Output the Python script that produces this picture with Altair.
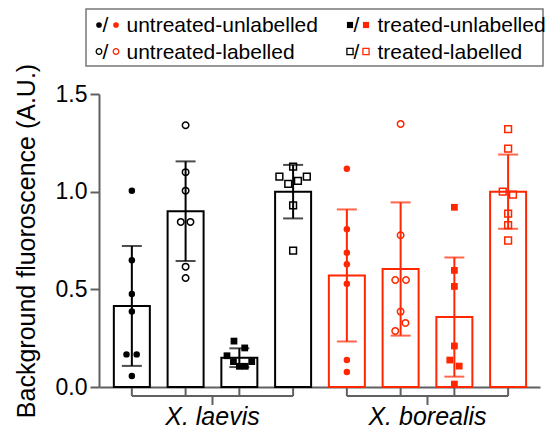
import altair as alt
import pandas as pd

RED = "#FF2600"
GRAY = "#606060"
FONT = "Liberation Sans"

species = ["X. laevis", "X. borealis"]
conditions = ["untreated-unlabelled", "untreated-labelled", "treated-unlabelled", "treated-labelled"]
shapes = ["circle", "circle", "square", "square"]
filled = [True, False, True, False]

mean_laevis = [0.415, 0.90, 0.15, 1.00]
sd_laevis = [0.307, 0.255, 0.048, 0.137]
mean_borealis = [0.571, 0.604, 0.358, 1.00]
sd_borealis = [0.338, 0.341, 0.305, 0.19]

# replicate values and their horizontal scatter (fraction of bar spacing)
laevis_uu = [1.005, 0.649, 0.476, 0.386, 0.167, 0.167, 0.056]
laevis_uu_jit = [0, 0, 0, 0, -0.1, 0.09, 0]
laevis_ul = [1.34, 1.10, 1.005, 0.845, 0.845, 0.616, 0.558]
laevis_ul_jit = [0, 0, 0, -0.09, 0.09, 0, 0]
laevis_tu = [0.235, 0.20, 0.16, 0.13, 0.13, 0.106, 0.106]
laevis_tu_jit = [-0.1, 0.1, -0.23, -0.11, 0.23, 0.0, 0.11]
laevis_tl = [1.128, 1.077, 1.077, 1.04, 1.055, 0.93, 0.698]
laevis_tl_jit = [0, -0.255, 0.255, -0.09, 0.09, 0, 0]

borealis_uu = [1.117, 0.808, 0.687, 0.628, 0.529, 0.138, 0.077]
borealis_uu_jit = [0, 0, 0, 0, 0, 0, 0]
borealis_ul = [1.347, 0.777, 0.548, 0.548, 0.386, 0.328, 0.287]
borealis_ul_jit = [0, 0, -0.1, 0.1, 0, 0.09, -0.1]
borealis_tu = [0.92, 0.597, 0.515, 0.21, 0.138, 0.107, 0.015]
borealis_tu_jit = [0, 0, 0, 0, -0.085, 0.09, 0]
borealis_tl = [1.32, 1.22, 1.0, 0.985, 0.888, 0.829, 0.75]
borealis_tl_jit = [0, 0, -0.1, 0.09, 0, 0, 0]

# ---------- build tables ----------
means = [mean_laevis, mean_borealis]
sds = [sd_laevis, sd_borealis]
reps = [[laevis_uu, laevis_ul, laevis_tu, laevis_tl],
        [borealis_uu, borealis_ul, borealis_tu, borealis_tl]]
jits = [[laevis_uu_jit, laevis_ul_jit, laevis_tu_jit, laevis_tl_jit],
        [borealis_uu_jit, borealis_ul_jit, borealis_tu_jit, borealis_tl_jit]]

bar_rows, pt_rows, grp_rows = [], [], []
for s, sp in enumerate(species):
    for c, cond in enumerate(conditions):
        pos = s * 4 + c
        m, sd = means[s][c], sds[s][c]
        bar_rows.append(dict(pos=pos, species=sp, cond=cond, mean=m, lo=m - sd, hi=m + sd))
        for v, j in zip(reps[s][c], jits[s][c]):
            pt_rows.append(dict(x=pos + j, value=v, species=sp, ci=c))
    grp_rows.append(dict(species=sp, start=s * 4, end=s * 4 + 3, center=s * 4 + 1.5))

bars_df = pd.DataFrame(bar_rows)
pts_df = pd.DataFrame(pt_rows)
grp_df = pd.DataFrame(grp_rows)

xscale = alt.Scale(domain=[-0.518, 7.5], nice=False, zero=False)
yscale = alt.Scale(domain=[0, 1.5], nice=False, zero=True)
cscale = alt.Scale(domain=species, range=["black", RED])

xaxis = alt.Axis(labels=False, ticks=False, grid=False, title=None,
                 domainColor=GRAY, domainWidth=2)
yaxis = alt.Axis(values=[0, 0.5, 1.0, 1.5], format=".1f", grid=False,
                 tickSize=9, tickWidth=2, tickColor=GRAY,
                 domainColor=GRAY, domainWidth=2,
                 labelFont=FONT, labelFontSize=23, labelColor="black", labelPadding=3,
                 title="Background fluoroscence (A.U.)", titleFont=FONT,
                 titleFontSize=25, titleFontWeight="normal", titleColor="black",
                 titlePadding=16)

bars = alt.Chart(bars_df).mark_bar(size=36, fill="white", strokeWidth=2).encode(
    x=alt.X("pos:Q", scale=xscale, axis=xaxis),
    y=alt.Y("mean:Q", scale=yscale, axis=yaxis),
    stroke=alt.Stroke("species:N", scale=cscale, legend=None),
)

err = alt.Chart(bars_df).mark_rule(strokeWidth=2).encode(
    x="pos:Q", y="lo:Q", y2="hi:Q",
    color=alt.Color("species:N", scale=cscale, legend=None),
)
cap_hi = alt.Chart(bars_df).mark_tick(orient="horizontal", size=20, thickness=2).encode(
    x="pos:Q", y="hi:Q", color=alt.Color("species:N", scale=cscale, legend=None))
cap_lo = alt.Chart(bars_df).mark_tick(orient="horizontal", size=20, thickness=2).encode(
    x="pos:Q", y="lo:Q", color=alt.Color("species:N", scale=cscale, legend=None))

pt_layers = []
for c in range(4):
    sz = 42 if shapes[c] == "circle" else 46
    pt_layers.append(
        alt.Chart(pts_df[pts_df.ci == c]).mark_point(
            shape=shapes[c], filled=filled[c], size=sz, opacity=1, strokeWidth=1.5
        ).encode(x="x:Q", y="value:Q",
                 color=alt.Color("species:N", scale=cscale, legend=None))
    )

# group brackets below the axis
br_line = alt.Chart(grp_df).mark_rule(color=GRAY, strokeWidth=2).encode(
    x="start:Q", x2="end:Q", y=alt.value(302))
br_ticks = alt.Chart(bars_df).mark_rule(color=GRAY, strokeWidth=2).encode(
    x="pos:Q", y=alt.value(294), y2=alt.value(302))
br_center = alt.Chart(grp_df).mark_rule(color=GRAY, strokeWidth=2).encode(
    x="center:Q", y=alt.value(302), y2=alt.value(311))
grp_text = alt.Chart(grp_df).mark_text(font=FONT, fontSize=25, fontStyle="italic",
                                       baseline="alphabetic", align="center", color="black").encode(
    x="center:Q", y=alt.value(331), text="species:N")

# manual legend
one = pd.DataFrame({"k": [0]})
leg = [alt.Chart(one).mark_rect(fill="white", stroke="#777777", strokeWidth=1.5).encode(
    x=alt.value(-13), x2=alt.value(444), y=alt.value(-85), y2=alt.value(-28))]
col_x = [0, 251]
row_y = [-69, -42.5]
for i, cond in enumerate(conditions):
    col = i // 2
    row = i % 2
    bx = col_x[col]
    cy = row_y[row]
    sz = 32 if shapes[i] == "circle" else 38
    for dx, colr in [(0, "black"), (17 if col == 0 else 16, RED)]:
        leg.append(alt.Chart(one).mark_point(shape=shapes[i], filled=filled[i], size=sz,
                                             opacity=1, strokeWidth=1.3, color=colr).encode(
            x=alt.value(bx + dx), y=alt.value(cy)))
    leg.append(alt.Chart(one).mark_text(text="/", font=FONT, fontSize=21, color="black",
                                        align="center", baseline="alphabetic").encode(
        x=alt.value(bx + 6.5), y=alt.value(cy + 7)))
    leg.append(alt.Chart(one).mark_text(text=cond, font=FONT, fontSize=21, color="black",
                                        align="left", baseline="alphabetic").encode(
        x=alt.value(bx + 27.5), y=alt.value(cy + 7)))

chart = alt.layer(
    *leg, bars, err, cap_hi, cap_lo, *pt_layers, br_line, br_ticks, br_center, grp_text
).properties(
    width=441, height=293,
    padding={"left": 91, "top": 86, "right": 5, "bottom": 46},
    autosize=alt.AutoSizeParams(type="none"),
).configure_view(stroke=None)

chart.save("out.html", embed_options={"renderer": "svg", "actions": False})
